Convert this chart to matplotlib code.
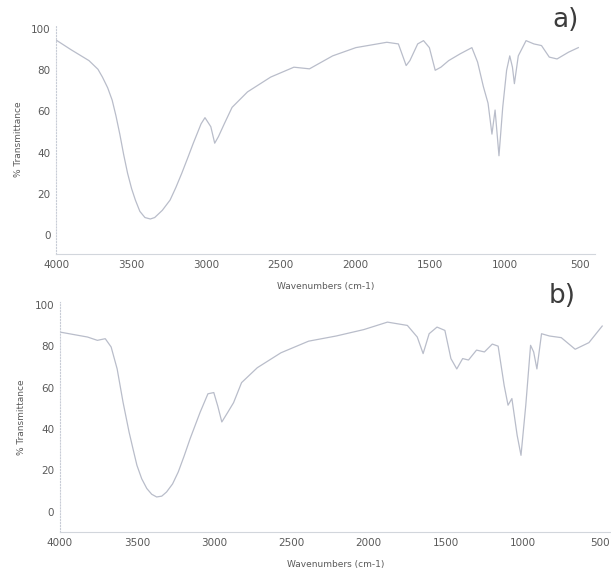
import numpy as np
import matplotlib.pyplot as plt

# spectrum a) - wavenumber (cm-1) / % transmittance
wn_a = [4000, 3900, 3780, 3720, 3690, 3655, 3625, 3600, 3574, 3548, 3522, 3495,
        3470, 3440, 3406, 3370, 3341, 3290, 3238, 3200, 3160, 3120, 3083,
        3031, 3005, 2966, 2940, 2915, 2876, 2824, 2721, 2566, 2411, 2307, 2152,
        1997, 1790, 1713, 1661, 1636, 1584, 1545, 1506, 1467, 1429, 1377, 1300,
        1222, 1184, 1145, 1114, 1088, 1067, 1041, 1016, 990, 969, 951, 938, 912,
        860, 808, 757, 705, 653, 576, 511]
tr_a = [94.7, 90, 84.7, 80.5, 76.7, 71.5, 65.5, 58, 49, 39, 30, 22.5,
        17, 11.5, 8.5, 7.8, 8.5, 12, 17, 23, 30, 37.5, 44.6,
        54, 57, 52.6, 44.6, 47.8, 54, 62, 69.5, 76.7, 81.5, 80.7, 87,
        91, 93.6, 92.8, 82.3, 84.7, 92.8, 94.4, 91, 80, 81.5, 84.7, 88,
        91, 84, 72, 64, 49, 60.7, 38.5, 62, 80, 87, 81.5, 73.5, 87,
        94.4, 92.8, 92, 86.4, 85.5, 88.8, 91]

# spectrum b)
wn_b = [4000, 3821, 3757, 3706, 3668, 3629, 3591, 3552, 3525, 3501, 3470, 3437,
        3405, 3373, 3340, 3309, 3270, 3233, 3195, 3156, 3092, 3041, 3003, 2977,
        2951, 2913, 2875, 2823, 2721, 2568, 2389, 2210, 2031, 1878, 1749, 1685,
        1647, 1608, 1557, 1506, 1467, 1429, 1391, 1353, 1301, 1250, 1199, 1161,
        1122, 1097, 1072, 1038, 1013, 982, 951, 931, 910, 880, 829, 752, 662,
        573, 487]
tr_b = [86.8, 84.4, 82.8, 83.6, 79.6, 69, 53, 38.6, 30, 22.5, 16, 11.3,
        8.5, 7.2, 7.6, 9.6, 13.5, 19.3, 27, 35.4, 48, 57, 57.6, 51,
        43.4, 48, 52.7, 62.4, 69.6, 76.8, 82.4, 84.9, 88, 91.6, 90, 84.4,
        76.4, 86, 89.2, 87.6, 74, 69, 74, 73.3, 78.1, 77.2, 81, 80,
        61, 51.5, 54.7, 37, 27.3, 51.5, 80.4, 77.2, 69, 86, 84.9, 84.1, 78.5,
        81.7, 89.7]

yticks = [0, 20, 40, 60, 80, 100]
xticks = [4000, 3500, 3000, 2500, 2000, 1500, 1000, 500]

line_col = '#b9bdca'
txt_col = '#5a5a5a'

fig = plt.figure(figsize=(6.11, 5.74), dpi=100)
ax_a = fig.add_axes([0.0917, 0.5575, 0.882, 0.399])
ax_b = fig.add_axes([0.098, 0.0732, 0.902, 0.401])

panels = [(ax_a, wn_a, tr_a, (4000, 400), (-9.2, 102), 'a)', 0.925, 0.965),
          (ax_b, wn_b, tr_b, (4000, 430), (-9.7, 101.4), 'b)', 0.92, 0.485)]

for ax, wn, tr, xl, yl, tag, tx, ty in panels:
    ax.plot(wn, tr, color=line_col, lw=0.9)
    ax.set_xlim(*xl)
    ax.set_ylim(*yl)
    ax.set_xticks(xticks)
    ax.set_yticks(yticks)
    ax.tick_params(length=0, labelsize=7.5, labelcolor=txt_col, pad=4)
    for s in ['top', 'right']:
        ax.spines[s].set_visible(False)
    ax.spines['left'].set_color('#c8ccd6')
    ax.spines['left'].set_linestyle(':')
    ax.spines['bottom'].set_color('#d2d6dc')
    ax.spines['left'].set_linewidth(0.8)
    ax.spines['bottom'].set_linewidth(0.8)
    ax.set_xlabel('Wavenumbers (cm-1)', fontsize=6.5, color=txt_col, labelpad=9)
    ax.set_ylabel('% Transmittance', fontsize=6.5, color=txt_col, labelpad=6)
    fig.text(tx, ty, tag, fontsize=19, color='#3c3c3c', ha='center', va='center')

fig.savefig('out.png', dpi=100)
